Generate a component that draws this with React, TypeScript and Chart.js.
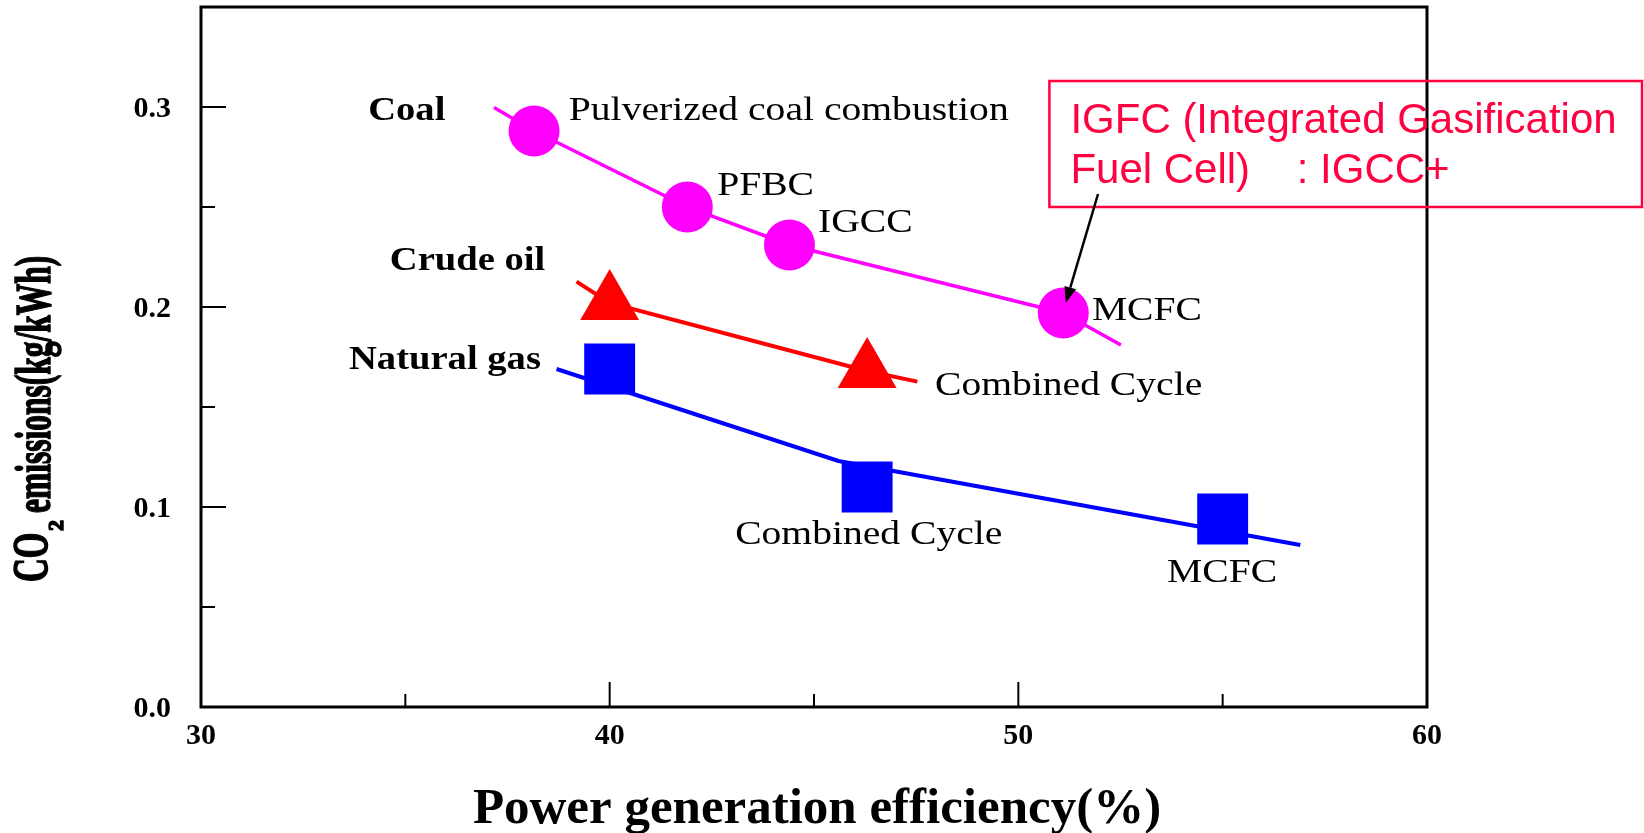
import React, { useEffect, useRef } from 'react';
import { Chart, registerables } from 'chart.js';

Chart.register(...registerables);

// ---- data ----
// marker points
const coalX = [38.15, 41.9, 44.4, 51.1];
const coalY = [0.288, 0.25, 0.231, 0.197];
const oilX = [40.0, 46.3];
const oilY = [0.202, 0.168];
const gasX = [40.0, 46.3, 55.0];
const gasY = [0.169, 0.11, 0.094];

// line end points (the drawn lines extend beyond the first/last marker)
const coalTailX = [37.17, 52.51];
const coalTailY = [0.2998, 0.181];
const oilTailX = [39.19, 47.53];
const oilTailY = [0.2127, 0.1627];
// natural-gas line is drawn as its own polyline
const gasLineX = [38.7, 45.6, 56.9];
const gasLineY = [0.169, 0.123, 0.081];

const xMajorTicks = [30, 40, 50, 60];
const xMinorTicks = [35, 45, 55];
const yMajorTicks = [0.0, 0.1, 0.2, 0.3];
const yMinorTicks = [0.05, 0.15, 0.25];
const xTickLabels = ['30', '40', '50', '60'];
const yTickLabels = ['0.0', '0.1', '0.2', '0.3'];

const xTitle = 'Power generation efficiency(%)';
const yTitleMain = 'CO';
const yTitleSub = '2';
const yTitleRest = 'emissions(kg/kWh)';

const fuelNames = ['Coal', 'Crude oil', 'Natural gas'];
const coalNames = ['Pulverized coal combustion', 'PFBC', 'IGCC', 'MCFC'];
const oilNames = ['Combined Cycle'];
const gasNames = ['Combined Cycle', 'MCFC'];
const noteLines = ['IGFC (Integrated Gasification', 'Fuel Cell)    : IGCC+'];

// annotation anchors (left x, baseline y) in data units
const fuelAnchors = [
  [34.09, 0.2935],
  [34.62, 0.2185],
  [33.62, 0.169],
];
const coalAnchors = [
  [39.0, 0.2935],
  [42.63, 0.256],
  [45.1, 0.2375],
  [51.8, 0.1935],
];
const oilAnchors = [[47.96, 0.156]];
const gasAnchors = [
  [43.07, 0.0815],
  [53.64, 0.0625],
];

const SERIF = '"Liberation Serif", "Times New Roman", Times, serif';
const SANS = '"Liberation Sans", Arial, Helvetica, sans-serif';
const NOTE_COLOR = '#FF0040';

function pts(xs: number[], ys: number[]) {
  return xs.map((x, i) => ({ x, y: ys[i] }));
}

function stretchText(
  ctx: CanvasRenderingContext2D,
  text: string,
  px: number,
  py: number,
  font: string,
  sx: number,
  color: string
) {
  ctx.save();
  ctx.font = font;
  ctx.fillStyle = color;
  ctx.textAlign = 'left';
  ctx.textBaseline = 'alphabetic';
  ctx.translate(px, py);
  ctx.scale(sx, 1);
  ctx.fillText(text, 0, 0);
  ctx.restore();
}

const decorPlugin = {
  id: 'decor',
  beforeDatasetsDraw(chart: any) {
    const { ctx, chartArea } = chart;
    const { left, right, top, bottom } = chartArea;
    const xs = chart.scales.x;
    const ys = chart.scales.y;
    ctx.save();
    ctx.strokeStyle = '#000';
    ctx.lineWidth = 2;
    xMajorTicks.forEach((v) => {
      const p = xs.getPixelForValue(v);
      ctx.beginPath();
      ctx.moveTo(p, bottom);
      ctx.lineTo(p, bottom - 25);
      ctx.stroke();
    });
    xMinorTicks.forEach((v) => {
      const p = xs.getPixelForValue(v);
      ctx.beginPath();
      ctx.moveTo(p, bottom);
      ctx.lineTo(p, bottom - 13);
      ctx.stroke();
    });
    yMajorTicks.forEach((v) => {
      const p = ys.getPixelForValue(v);
      ctx.beginPath();
      ctx.moveTo(left, p);
      ctx.lineTo(left + 25, p);
      ctx.stroke();
    });
    yMinorTicks.forEach((v) => {
      const p = ys.getPixelForValue(v);
      ctx.beginPath();
      ctx.moveTo(left, p);
      ctx.lineTo(left + 14, p);
      ctx.stroke();
    });
    ctx.lineWidth = 3;
    ctx.strokeRect(left, top, right - left, bottom - top);

    // tick labels
    ctx.fillStyle = '#000';
    ctx.font = `bold 30px ${SERIF}`;
    ctx.textAlign = 'center';
    ctx.textBaseline = 'alphabetic';
    xMajorTicks.forEach((v, i) => {
      ctx.fillText(xTickLabels[i], xs.getPixelForValue(v), bottom + 37);
    });
    ctx.textAlign = 'right';
    yMajorTicks.forEach((v, i) => {
      ctx.fillText(yTickLabels[i], left - 30, ys.getPixelForValue(v) + 10);
    });
    ctx.restore();
  },
  afterDraw(chart: any) {
    const { ctx, chartArea } = chart;
    const xs = chart.scales.x;
    const ys = chart.scales.y;
    const P = (a: number[]) => [xs.getPixelForValue(a[0]), ys.getPixelForValue(a[1])];

    // fuel category labels (bold)
    fuelNames.forEach((t, i) => {
      const [px, py] = P(fuelAnchors[i]);
      stretchText(ctx, t, px, py, `bold 33px ${SERIF}`, 1.17, '#000');
    });
    const plain = `33px ${SERIF}`;
    coalNames.forEach((t, i) => {
      const [px, py] = P(coalAnchors[i]);
      stretchText(ctx, t, px, py, plain, 1.2, '#000');
    });
    oilNames.forEach((t, i) => {
      const [px, py] = P(oilAnchors[i]);
      stretchText(ctx, t, px, py, plain, 1.2, '#000');
    });
    gasNames.forEach((t, i) => {
      const [px, py] = P(gasAnchors[i]);
      stretchText(ctx, t, px, py, plain, 1.2, '#000');
    });

    // x axis title
    ctx.save();
    ctx.font = `bold 51px ${SERIF}`;
    ctx.fillStyle = '#000';
    ctx.textAlign = 'center';
    ctx.textBaseline = 'alphabetic';
    ctx.fillText(xTitle, (chartArea.left + chartArea.right) / 2 + 3, chartArea.bottom + 116);
    ctx.restore();

    // y axis title (rotated, compressed)
    const yStart = ys.getPixelForValue(0.0625);
    const drawRot = (text: string, bx: number, by: number, font: string, sx: number) => {
      ctx.save();
      ctx.font = font;
      ctx.fillStyle = '#000';
      ctx.strokeStyle = '#000';
      ctx.lineWidth = 1.5;
      ctx.textAlign = 'left';
      ctx.textBaseline = 'alphabetic';
      ctx.translate(bx, by);
      ctx.rotate(-Math.PI / 2);
      ctx.scale(sx, 1);
      ctx.fillText(text, 0, 0);
      ctx.strokeText(text, 0, 0);
      ctx.restore();
    };
    drawRot(yTitleMain, 47, yStart, `bold 50px ${SERIF}`, 0.66);
    drawRot(yTitleSub, 63, yStart - 51, `bold 22px ${SERIF}`, 1);
    drawRot(yTitleRest, 50, yStart - 69, `bold 50px ${SERIF}`, 0.63);

    // IGFC note box
    const boxL = xs.getPixelForValue(50.76);
    const boxT = ys.getPixelForValue(0.313);
    const boxB = ys.getPixelForValue(0.25);
    const boxR = chart.width - 2;
    ctx.save();
    ctx.strokeStyle = NOTE_COLOR;
    ctx.lineWidth = 2.5;
    ctx.strokeRect(boxL, boxT, boxR - boxL, boxB - boxT);
    ctx.font = `42px ${SANS}`;
    ctx.fillStyle = NOTE_COLOR;
    ctx.textAlign = 'left';
    ctx.textBaseline = 'alphabetic';
    ctx.fillText(noteLines[0], boxL + 21, boxT + 52);
    ctx.fillText(noteLines[1], boxL + 21, boxT + 102);
    ctx.restore();

    // arrow to coal MCFC
    const [sx0, sy0] = P([51.95, 0.2565]);
    const [tx, ty] = P([51.16, 0.202]);
    const ang = Math.atan2(ty - sy0, tx - sx0);
    const head = 16;
    const hw = 6;
    const bx = tx - head * Math.cos(ang);
    const by = ty - head * Math.sin(ang);
    ctx.save();
    ctx.strokeStyle = '#000';
    ctx.fillStyle = '#000';
    ctx.lineWidth = 2.5;
    ctx.beginPath();
    ctx.moveTo(sx0, sy0);
    ctx.lineTo(bx, by);
    ctx.stroke();
    ctx.beginPath();
    ctx.moveTo(tx, ty);
    ctx.lineTo(bx + hw * Math.sin(ang), by - hw * Math.cos(ang));
    ctx.lineTo(bx - hw * Math.sin(ang), by + hw * Math.cos(ang));
    ctx.closePath();
    ctx.fill();
    ctx.restore();
  },
};

export default function App() {
  const ref = useRef<HTMLCanvasElement | null>(null);

  useEffect(() => {
    document.body.style.margin = '0';
    const canvas = ref.current;
    if (!canvas) return;

    // series drawn as a line through its markers, extended by its tail points
    const seriesDs = (
      xs: number[],
      ys: number[],
      tailX: number[],
      tailY: number[],
      color: string,
      style: string,
      r: number,
      w: number
    ) => {
      const data = [
        { x: tailX[0], y: tailY[0] },
        ...pts(xs, ys),
        { x: tailX[1], y: tailY[1] },
      ];
      const radii = data.map((_, i) => (i === 0 || i === data.length - 1 ? 0 : r));
      return {
        data,
        showLine: true,
        borderColor: color,
        borderWidth: w,
        tension: 0,
        fill: false,
        pointStyle: style,
        pointRadius: radii,
        pointHoverRadius: radii,
        pointBackgroundColor: color,
        pointBorderColor: color,
        pointBorderWidth: 0,
        order: 1,
      };
    };
    const lineDs = (xs: number[], ys: number[], color: string, w: number) => ({
      data: pts(xs, ys),
      showLine: true,
      borderColor: color,
      borderWidth: w,
      pointRadius: 0,
      pointHoverRadius: 0,
      fill: false,
      tension: 0,
      order: 2,
    });
    const markDs = (xs: number[], ys: number[], color: string, style: string, r: number) => ({
      data: pts(xs, ys),
      showLine: false,
      pointStyle: style,
      pointRadius: r,
      pointHoverRadius: r,
      pointBackgroundColor: color,
      pointBorderColor: color,
      pointBorderWidth: 0,
      order: 0,
    });
    const chart = new Chart(canvas, {
      type: 'scatter',
      data: {
        datasets: [
          seriesDs(coalX, coalY, coalTailX, coalTailY, '#FF00FF', 'circle', 25.5, 3.5),
          seriesDs(oilX, oilY, oilTailX, oilTailY, '#FF0000', 'triangle', 34, 4),
          markDs(gasX, gasY, '#0000FF', 'rect', 36),
          lineDs(gasLineX, gasLineY, '#0000FF', 4),
        ] as any,
      },
      options: {
        animation: false,
        responsive: false,
        devicePixelRatio: 1,
        layout: { autoPadding: false, padding: { top: 7, right: 217, left: 0, bottom: 0 } },
        plugins: {
          legend: { display: false },
          tooltip: { enabled: false },
        },
        events: [],
        scales: {
          x: {
            type: 'linear',
            min: 30,
            max: 60,
            grid: { display: false },
            border: { display: false },
            ticks: { display: false, stepSize: 5 },
            afterFit: (s: any) => {
              s.height = 126;
            },
          },
          y: {
            type: 'linear',
            min: 0,
            max: 0.35,
            grid: { display: false },
            border: { display: false },
            ticks: { display: false, stepSize: 0.05 },
            afterFit: (s: any) => {
              s.width = 201;
            },
          },
        },
      } as any,
      plugins: [decorPlugin],
    });
    return () => chart.destroy();
  }, []);

  return (
    <div style={{ position: 'absolute', left: 0, top: 0, width: 1644, height: 833, background: '#fff' }}>
      <canvas ref={ref} width={1644} height={833} style={{ width: 1644, height: 833, display: 'block' }} />
    </div>
  );
}
